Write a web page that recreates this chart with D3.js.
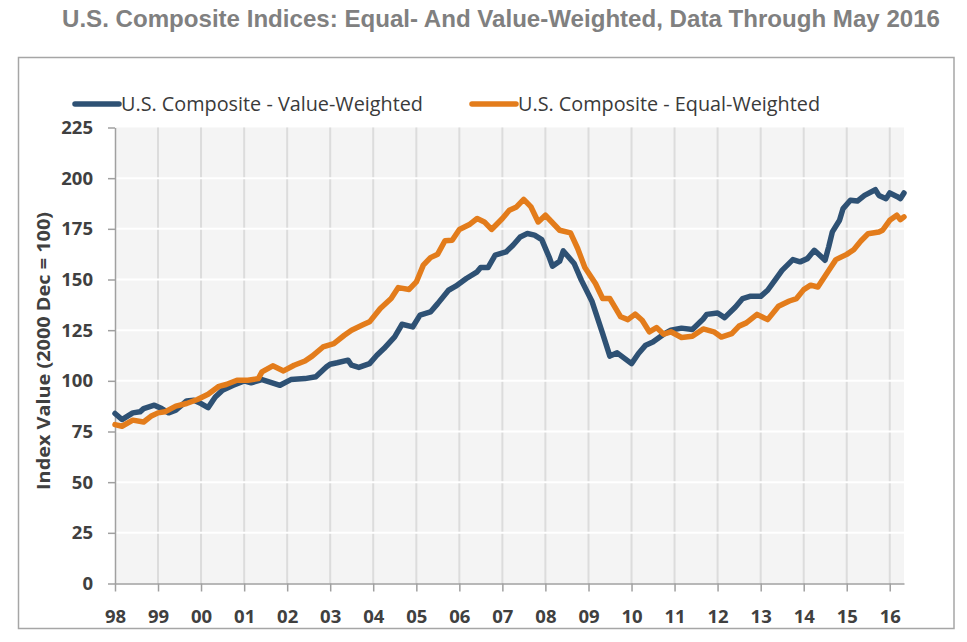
<!DOCTYPE html>
<html>
<head>
<meta charset="utf-8">
<title>U.S. Composite Indices</title>
<script src="https://cdn.jsdelivr.net/npm/d3@7"></script>
<style>
	body { margin: 0; background: #fff; }
	svg { display: block; }
</style>
</head>
<body>
<div id="chart"></div>
<script type="text/javascript">

// value-weighted (blue)
var vw_dates = ['1998-01','1998-03','1998-06','1998-08','1998-09','1998-12','1999-02','1999-04','1999-06','1999-09','1999-11',
	'2000-01','2000-03','2000-05','2000-07','2000-10','2001-01','2001-03','2001-06','2001-08','2001-11','2002-02','2002-06','2002-09','2002-12',
	'2003-01','2003-03','2003-06','2003-07','2003-09','2003-12','2004-02','2004-04','2004-07','2004-09','2004-12',
	'2005-02','2005-05','2005-07','2005-10','2005-12','2006-03','2006-06','2006-07','2006-09','2006-11',
	'2007-02','2007-04','2007-06','2007-08','2007-10','2007-12','2008-02','2008-03','2008-05','2008-06','2008-09','2008-11',
	'2009-02','2009-05','2009-07','2009-09','2010-01','2010-03','2010-05','2010-07','2010-10','2010-12',
	'2011-03','2011-06','2011-09','2011-10','2012-01','2012-03','2012-06','2012-08','2012-10',
	'2013-01','2013-03','2013-05','2013-07','2013-10','2013-12','2014-02','2014-04','2014-05','2014-07','2014-08','2014-09','2014-11','2014-12',
	'2015-02','2015-04','2015-06','2015-09','2015-10','2015-12','2016-01','2016-03','2016-04','2016-05'];
var vw_values = [83.9,80.9,84.2,84.7,86.3,88.0,86.3,84.2,85.5,90.1,90.4,
	88.8,86.8,92.0,95.4,97.8,100.0,99.0,100.6,99.5,97.8,100.6,101.1,102.0,106.9,
	108.2,108.9,110.2,107.7,106.6,108.5,112.6,115.9,121.7,127.9,126.6,
	132.4,134.0,138.1,144.7,146.7,150.5,153.8,155.9,155.9,162.0,
	163.6,166.9,171.0,172.7,171.9,169.7,161.2,156.6,159.0,164.1,157.9,149.7,
	139.0,123.3,112.2,113.8,108.5,113.5,117.6,119.2,123.0,125.0,
	126.0,125.3,130.5,132.8,133.5,131.2,136.4,140.6,141.7,
	141.7,144.7,149.6,154.5,159.8,158.7,160.3,164.4,162.8,159.5,166.1,173.5,179.2,185.0,
	189.1,188.7,191.5,194.3,191.5,189.9,192.7,191.0,189.9,192.7];

// equal-weighted (orange)
var ew_dates = ['1998-01','1998-03','1998-06','1998-09','1998-11','1999-01','1999-03','1999-06','1999-09','1999-12',
	'2000-03','2000-06','2000-08','2000-11','2001-02','2001-05','2001-06','2001-09','2001-12','2002-03','2002-06','2002-08','2002-11',
	'2003-02','2003-05','2003-07','2003-10','2003-12','2004-03','2004-06','2004-08','2004-11',
	'2005-01','2005-03','2005-05','2005-07','2005-09','2005-11','2006-01','2006-04','2006-06','2006-08','2006-10',
	'2007-01','2007-03','2007-05','2007-07','2007-09','2007-11','2008-01','2008-05','2008-08','2008-10','2008-12',
	'2009-03','2009-05','2009-07','2009-10','2009-12','2010-02','2010-04','2010-06','2010-08','2010-10','2010-12',
	'2011-03','2011-06','2011-09','2011-12','2012-02','2012-05','2012-07','2012-09','2012-12',
	'2013-03','2013-06','2013-09','2013-11','2014-01','2014-03','2014-05','2014-08','2014-10',
	'2015-01','2015-03','2015-05','2015-07','2015-10','2015-11','2016-01','2016-03','2016-04','2016-05'];
var ew_values = [78.4,77.6,80.6,79.7,82.5,84.2,84.7,87.5,88.8,90.8,
	93.4,97.3,98.2,100.3,100.3,101.1,104.4,107.4,104.9,107.7,109.8,112.2,116.7,
	118.4,122.5,125.0,127.5,129.1,135.7,140.6,146.0,145.1,
	148.8,157.1,160.8,162.5,169.1,169.4,174.7,177.3,180.1,178.4,174.7,
	180.1,184.2,185.8,189.5,185.8,178.4,181.7,174.3,173.0,165.3,155.9,
	148.0,140.6,140.6,131.6,130.2,132.9,129.9,124.2,126.3,123.0,124.2,
	121.4,122.0,125.6,124.2,121.6,123.3,127.0,128.6,132.8,
	130.2,136.8,139.4,140.6,145.0,147.2,146.3,154.5,159.8,
	162.4,164.7,169.0,172.6,173.4,174.3,179.2,181.7,179.5,180.9];

var series_names = ['U.S. Composite - Value-Weighted', 'U.S. Composite - Equal-Weighted'];
var series_colors = ['#2e5174', '#e37c1b'];
var year_labels = ['98','99','00','01','02','03','04','05','06','07','08','09','10','11','12','13','14','15','16'];
var y_ticks = [0,25,50,75,100,125,150,175,200,225];

var W = 967, H = 642;
var plot_l = 115, plot_r = 904, plot_t = 127.5, plot_b = 583.5;

var parse = d3.timeParse('%Y-%m');

var svg = d3.select('#chart').append('svg')
	.attr('width', W)
	.attr('height', H);

// title
svg.append('text')
	.attr('x', 501).attr('y', 27)
	.attr('text-anchor', 'middle')
	.attr('textLength', 878).attr('lengthAdjust', 'spacingAndGlyphs')
	.style('font-family', 'Liberation Sans, Arial, sans-serif')
	.style('font-weight', 'bold')
	.style('font-size', '24px')
	.style('fill', '#808080')
	.text('U.S. Composite Indices: Equal- And Value-Weighted, Data Through May 2016');

// outer frame
svg.append('rect')
	.attr('x', 18.5).attr('y', 57.5)
	.attr('width', 935.5).attr('height', 571)
	.style('fill', 'none')
	.style('stroke', '#a6a6a6')
	.style('stroke-width', 1.5);

var x = d3.scaleTime()
	.domain([parse('1998-01'), parse('2016-05')])
	.range([plot_l, plot_r]);

var y = d3.scaleLinear()
	.domain([0, 225])
	.range([plot_b, plot_t]);

var year_dates = year_labels.map(function(d, i){ return new Date(1998 + i, 0, 1); });

// plot background
svg.append('rect')
	.attr('x', plot_l).attr('y', plot_t)
	.attr('width', plot_r - plot_l).attr('height', plot_b - plot_t)
	.style('fill', '#f4f4f4');

// vertical grid
svg.selectAll('.vgrid').data(year_dates.slice(1))
	.enter().append('line').classed('vgrid', true)
	.attr('x1', function(d){ return x(d); })
	.attr('x2', function(d){ return x(d); })
	.attr('y1', plot_t).attr('y2', plot_b)
	.style('stroke', '#dcdcdc')
	.style('stroke-width', 2);

// horizontal grid
svg.selectAll('.hgrid').data(y_ticks.slice(1, -1))
	.enter().append('line').classed('hgrid', true)
	.attr('x1', plot_l).attr('x2', plot_r)
	.attr('y1', function(d){ return y(d); })
	.attr('y2', function(d){ return y(d); })
	.style('stroke', '#ffffff')
	.style('stroke-width', 2);

// axes
var tick_font = 'Open Sans, Noto Sans, sans-serif';

var xAxis = svg.append('g')
	.attr('transform', 'translate(0,' + plot_b + ')')
	.call(d3.axisBottom(x).tickValues(year_dates)
		.tickFormat(function(d, i){ return year_labels[i]; })
		.tickSizeInner(8).tickSizeOuter(0).tickPadding(18));

var yAxis = svg.append('g')
	.attr('transform', 'translate(' + plot_l + ',0)')
	.call(d3.axisLeft(y).tickValues(y_ticks)
		.tickSizeInner(7).tickSizeOuter(0).tickPadding(15));

[xAxis, yAxis].forEach(function(ax){
	ax.select('.domain').style('stroke', '#a0a0a0').style('stroke-width', 1.5);
	ax.selectAll('.tick line').style('stroke', '#a0a0a0').style('stroke-width', 1.5);
	ax.selectAll('.tick text')
		.style('font-family', tick_font)
		.style('font-weight', 'bold')
		.style('font-size', '18.5px')
		.style('fill', '#404040');
});

// y title
svg.append('text')
	.attr('transform', 'translate(50,351) rotate(-90)')
	.attr('text-anchor', 'middle')
	.attr('textLength', 278).attr('lengthAdjust', 'spacingAndGlyphs')
	.style('font-family', tick_font)
	.style('font-weight', 'bold')
	.style('font-size', '18.5px')
	.style('fill', '#404040')
	.text('Index Value (2000 Dec = 100)');

// lines
var line = d3.line()
	.x(function(d){ return x(d.date); })
	.y(function(d){ return y(d.value); });

var series = [
	vw_dates.map(function(d, i){ return {date: parse(d), value: vw_values[i]}; }),
	ew_dates.map(function(d, i){ return {date: parse(d), value: ew_values[i]}; })
];

svg.selectAll('.series').data([0, 1])
	.enter().append('path').classed('series', true)
	.attr('d', function(i){ return line(series[i]); })
	.style('fill', 'none')
	.style('stroke', function(i){ return series_colors[i]; })
	.style('stroke-width', 5.5)
	.style('stroke-linejoin', 'round')
	.style('stroke-linecap', 'round');

// legend
var legend_x = [75, 472];
var legend = svg.selectAll('.legend').data([0, 1])
	.enter().append('g').classed('legend', true)
	.attr('transform', function(i){ return 'translate(' + legend_x[i] + ',104)'; });

legend.append('line')
	.attr('x1', 0).attr('x2', 44)
	.attr('y1', 0).attr('y2', 0)
	.style('stroke', function(i){ return series_colors[i]; })
	.style('stroke-width', 5.5)
	.style('stroke-linecap', 'round');

legend.append('text')
	.attr('x', 46).attr('y', 7)
	.attr('textLength', 302)
	.attr('lengthAdjust', 'spacingAndGlyphs')
	.style('font-family', tick_font)
	.style('font-size', '20px')
	.style('fill', '#3a3a3a')
	.text(function(i){ return series_names[i]; });

</script>
</body>
</html>
